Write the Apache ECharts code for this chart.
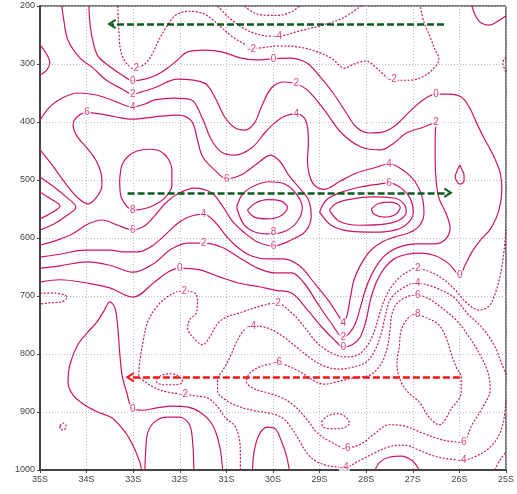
<!DOCTYPE html>
<html>
<head>
<meta charset="utf-8">
<script src="https://cdn.jsdelivr.net/npm/echarts/dist/echarts.min.js"></script>
<style>
  html, body { margin: 0; padding: 0; background: #fff; }
  #chart { width: 517px; height: 494px; }
</style>
</head>
<body>
<div id="chart"></div>
<script>
// contour polylines, [latitude (negative = S), pressure hPa]
const neg2Top = [[-33.33,200],[-33.31,241],[-33.27,276],[-33.16,297],[-32.97,307],[-32.75,300],[-32.60,284],[-32.47,262],[-32.30,238],[-32.09,216],[-31.79,209],[-31.47,214],[-31.19,231],[-30.89,252],[-30.61,266],[-30.46,274],[-30.25,272],[-29.86,269],[-29.43,271],[-29.05,279],[-28.73,291],[-28.47,307],[-28.26,300],[-28.00,295],[-27.78,307],[-27.57,322],[-27.40,328],[-27.08,328],[-26.76,321],[-26.50,303],[-26.44,290],[-26.52,276],[-26.63,253],[-26.76,228],[-26.84,200]];
const neg4Top = [[-31.19,200],[-30.93,221],[-30.68,236],[-30.40,247],[-30.08,252],[-29.90,252],[-29.43,243],[-28.94,233],[-28.51,221],[-28.11,200]];
const neg6Top = [[-30.61,200],[-30.40,212],[-30.12,216],[-29.86,216],[-29.58,209],[-29.43,200]];
const zeroLine = [[-33.95,200],[-33.93,228],[-33.87,259],[-33.76,286],[-33.54,302],[-33.24,319],[-33.01,329],[-32.75,326],[-32.50,319],[-32.26,307],[-32.05,293],[-31.83,279],[-31.47,276],[-31.10,279],[-30.68,290],[-30.38,293],[-29.99,291],[-29.65,290],[-29.28,298],[-29.00,321],[-28.71,350],[-28.43,384],[-28.21,409],[-27.93,419],[-27.63,417],[-27.36,405],[-27.08,383],[-26.78,362],[-26.50,352],[-26.22,352],[-25.96,357],[-25.79,374],[-25.64,400],[-25.47,428],[-25.30,453],[-25.13,486],[-25.09,517],[-25.15,552],[-25.32,583],[-25.54,603],[-25.73,624],[-25.88,647],[-25.99,664],[-26.22,645],[-26.50,631],[-26.82,626],[-27.12,628],[-27.40,636],[-27.61,652],[-27.78,676],[-27.91,707],[-28.00,741],[-28.13,771],[-28.30,784],[-28.49,788],[-28.68,776],[-28.96,753],[-29.26,724],[-29.60,695],[-29.97,690],[-30.29,684],[-30.72,678],[-31.15,667],[-31.57,655],[-32.00,652],[-32.26,659],[-32.54,676],[-33.01,702],[-33.50,686],[-33.97,678],[-34.57,672],[-35.00,676]];
const twoLine = [[-34.53,200],[-34.49,224],[-34.40,259],[-34.14,290],[-33.89,305],[-33.57,328],[-33.24,343],[-33.01,352],[-32.82,348],[-32.54,341],[-32.05,326],[-31.47,333],[-31.25,357],[-31.04,391],[-30.82,410],[-30.61,414],[-30.40,402],[-30.25,374],[-30.03,341],[-29.75,331],[-29.50,334],[-29.26,345],[-28.90,379],[-28.53,419],[-28.11,443],[-27.68,448],[-27.40,436],[-27.14,419],[-26.78,409],[-26.50,400],[-26.52,431],[-26.52,466],[-26.50,500],[-26.44,531],[-26.29,557],[-26.20,583],[-26.31,603],[-26.54,610],[-26.91,610],[-27.23,614],[-27.51,624],[-27.72,641],[-27.89,664],[-28.02,690],[-28.13,721],[-28.23,747],[-28.36,764],[-28.49,771],[-28.75,747],[-29.05,712],[-29.33,678],[-29.60,660],[-29.97,660],[-30.33,652],[-30.72,634],[-31.10,616],[-31.49,609],[-31.83,609],[-32.22,621],[-32.54,643],[-33.01,659],[-33.50,647],[-33.99,641],[-34.57,648],[-35.00,652]];
const fourLine = [[-35.00,397],[-34.79,374],[-34.53,359],[-34.19,350],[-33.82,353],[-33.46,362],[-33.01,374],[-32.75,369],[-32.54,362],[-32.11,359],[-31.75,362],[-31.53,391],[-31.32,431],[-31.10,452],[-30.82,457],[-30.46,445],[-30.18,419],[-29.97,402],[-29.75,390],[-29.50,386],[-29.33,393],[-29.26,409],[-29.24,436],[-29.26,466],[-29.22,491],[-29.11,509],[-28.90,516],[-28.58,503],[-28.21,488],[-27.78,478],[-27.51,472],[-27.19,484],[-26.95,503],[-26.80,529],[-26.76,557],[-26.86,579],[-27.08,591],[-27.38,598],[-27.66,607],[-27.91,622],[-28.11,645],[-28.26,672],[-28.34,703],[-28.41,733],[-28.49,747],[-28.58,736],[-28.79,710],[-29.11,678],[-29.43,648],[-29.78,636],[-30.12,636],[-30.46,631],[-30.76,616],[-31.02,595],[-31.25,572],[-31.49,559],[-31.75,562],[-32.00,572],[-32.32,595],[-32.60,614],[-32.90,624],[-33.18,624],[-33.50,621],[-34.04,621],[-34.57,628],[-35.00,633]];
const sixLine = [[-35.00,612],[-34.68,605],[-34.31,593],[-33.97,576],[-33.67,569],[-33.33,578],[-33.01,586],[-32.75,579],[-32.54,562],[-32.32,541],[-32.05,524],[-31.68,514],[-31.32,522],[-31.10,543],[-30.89,569],[-30.61,591],[-30.33,607],[-29.99,614],[-29.60,603],[-29.30,588],[-29.18,562],[-29.24,534],[-29.43,514],[-29.67,491],[-29.84,469],[-30.05,457],[-30.33,471],[-30.68,491],[-30.99,498],[-31.25,483],[-31.51,460],[-31.62,431],[-31.75,398],[-32.05,388],[-32.54,391],[-33.01,395],[-33.39,391],[-33.72,386],[-33.99,384],[-34.19,390],[-34.29,405],[-34.21,424],[-33.99,445],[-33.80,466],[-33.69,488],[-33.67,509],[-33.78,529],[-33.97,541],[-34.21,529],[-34.49,502],[-34.74,474],[-35.00,448]];
const eightLoopW = [[-33.29,500],[-33.24,474],[-33.12,460],[-32.92,450],[-32.65,447],[-32.43,450],[-32.26,462],[-32.17,483],[-32.17,509],[-32.30,529],[-32.54,543],[-32.79,550],[-33.01,552],[-33.16,543],[-33.27,526],[-33.29,500]];
const eightWedge = [[-35.00,495],[-34.70,512],[-34.44,529],[-34.23,547],[-34.44,562],[-34.70,576],[-35.00,586]];
const tenWedge = [[-35.00,521],[-34.76,533],[-34.57,545],[-34.76,557],[-35.00,567]];
const eightEyeC = [[-30.78,547],[-30.65,524],[-30.40,510],[-30.08,503],[-29.75,507],[-29.50,524],[-29.37,548],[-29.48,572],[-29.73,588],[-30.03,593],[-30.38,590],[-30.63,576],[-30.78,547]];
const tenEyeC = [[-30.55,552],[-30.38,540],[-30.12,534],[-29.84,536],[-29.69,548],[-29.84,562],[-30.12,567],[-30.40,564],[-30.55,552]];
const sixEyeE = [[-29.00,555],[-28.85,534],[-28.53,521],[-28.11,512],[-27.72,507],[-27.51,505],[-27.25,514],[-27.06,531],[-26.99,555],[-27.10,574],[-27.36,586],[-27.83,590],[-28.36,588],[-28.75,578],[-29.00,555]];
const eightEyeE = [[-28.79,552],[-28.64,540],[-28.32,533],[-27.89,529],[-27.40,531],[-27.19,541],[-27.14,555],[-27.29,569],[-27.61,576],[-28.15,578],[-28.58,571],[-28.79,552]];
const tenEyeE = [[-27.89,550],[-27.72,540],[-27.46,538],[-27.27,547],[-27.36,559],[-27.61,564],[-27.83,559],[-27.89,550]];
const fourBump = [[-35.00,267],[-34.85,284],[-34.79,298],[-34.85,310],[-35.00,319]];
const twoDrop = [[-25.99,474],[-26.05,484],[-26.09,495],[-26.05,503],[-25.99,507],[-25.90,502],[-25.90,491],[-25.94,483],[-25.99,474]];
const cornerNE = [[-25.73,200],[-25.66,216],[-25.54,229],[-25.36,233],[-25.17,226],[-25.00,217]];
const edgeDotNE = [[-25.00,288],[-25.07,298],[-25.04,307],[-25.00,314]];
const neg2EdgeW = [[-35.00,695],[-34.68,695],[-34.42,702],[-34.53,710],[-34.83,712],[-35.00,714]];
const zeroPeak = [[-32.82,1000],[-32.86,986],[-33.01,957],[-33.18,934],[-33.46,910],[-33.76,900],[-34.04,888],[-34.29,871],[-34.40,848],[-34.36,819],[-34.19,784],[-33.97,762],[-33.78,745],[-33.63,726],[-33.50,710],[-33.39,721],[-33.33,755],[-33.29,797],[-33.24,836],[-33.14,866],[-33.01,895],[-32.79,897],[-32.50,893],[-32.15,890],[-31.85,891],[-31.57,900],[-31.30,922],[-31.15,957],[-31.08,1000]];
const twoCup = [[-32.75,1000],[-32.73,966],[-32.69,936],[-32.54,917],[-32.28,909],[-32.00,909],[-31.79,922],[-31.72,957],[-31.70,1000]];
const neg2Low = [[-30.70,1000],[-30.70,974],[-30.72,948],[-30.82,924],[-31.02,910],[-31.19,891],[-31.40,876],[-31.68,872],[-31.92,869],[-32.17,867],[-32.43,862],[-32.71,850],[-32.88,836],[-32.86,814],[-32.79,779],[-32.69,745],[-32.50,719],[-32.28,702],[-32.07,693],[-31.94,691],[-31.68,695],[-31.62,707],[-31.64,728],[-31.79,741],[-31.83,755],[-31.72,771],[-31.51,784],[-31.36,771],[-31.21,750],[-31.04,738],[-30.68,728],[-30.25,717],[-29.93,712],[-29.60,729],[-29.33,753],[-29.05,781],[-28.75,798],[-28.47,805],[-28.19,802],[-27.98,786],[-27.83,762],[-27.72,733],[-27.59,703],[-27.40,678],[-27.19,662],[-26.91,653],[-26.61,659],[-26.33,672],[-26.07,691],[-25.84,712],[-25.58,724],[-25.36,717],[-25.22,693],[-25.11,659],[-25.04,621],[-25.00,583]];
const neg4Line = [[-25.00,836],[-25.09,817],[-25.26,784],[-25.51,755],[-25.84,729],[-26.11,703],[-26.50,686],[-26.93,678],[-27.25,688],[-27.49,707],[-27.59,734],[-27.68,765],[-27.81,793],[-28.00,814],[-28.26,822],[-28.58,826],[-28.90,821],[-29.20,807],[-29.50,788],[-29.80,769],[-30.12,755],[-30.46,752],[-30.63,760],[-30.78,779],[-30.91,803],[-31.06,826],[-31.19,845],[-31.19,864],[-31.02,879],[-30.72,891],[-30.38,898],[-30.08,902],[-29.80,910],[-29.60,928],[-29.43,950],[-29.26,972],[-29.05,986],[-28.79,993],[-28.47,995],[-28.15,984],[-27.83,971],[-27.51,960],[-27.19,957],[-26.86,966],[-26.54,976],[-26.22,981],[-25.94,983],[-25.64,976],[-25.36,962],[-25.15,940],[-25.04,910],[-25.00,879]];
const neg6Loop = [[-29.90,815],[-30.25,821],[-30.50,833],[-30.57,848],[-30.40,860],[-30.12,867],[-29.80,876],[-29.52,891],[-29.26,914],[-29.05,936],[-28.73,953],[-28.43,962],[-28.11,955],[-27.83,938],[-27.51,922],[-27.19,924],[-26.80,936],[-26.37,948],[-25.94,952],[-25.73,922],[-25.51,893],[-25.34,862],[-25.39,831],[-25.58,798],[-25.79,771],[-26.05,743],[-26.37,721],[-26.65,705],[-26.93,698],[-27.29,709],[-27.44,729],[-27.49,759],[-27.55,790],[-27.68,817],[-27.91,836],[-28.26,841],[-28.58,847],[-28.90,852],[-29.15,845],[-29.41,831],[-29.67,821],[-29.90,815]];
const neg8Loop = [[-26.95,731],[-26.69,738],[-26.44,750],[-26.29,771],[-26.18,798],[-26.07,822],[-25.96,841],[-25.96,866],[-26.16,893],[-26.44,922],[-26.65,909],[-26.86,883],[-27.10,866],[-27.27,845],[-27.34,815],[-27.29,788],[-27.25,759],[-27.10,738],[-26.95,731]];
const blobS = [[-28.96,917],[-28.83,907],[-28.62,903],[-28.43,909],[-28.36,919],[-28.51,928],[-28.75,929],[-28.92,926],[-28.96,917]];
const neg4Blob = [[-32.50,843],[-32.37,836],[-32.17,834],[-31.98,841],[-31.94,848],[-32.11,853],[-32.35,853],[-32.50,848],[-32.50,843]];
const zeroCupS = [[-30.44,1000],[-30.40,966],[-30.29,938],[-30.12,926],[-29.95,929],[-29.82,950],[-29.71,976],[-29.65,1000]];
const zeroCupSE = [[-27.81,1000],[-27.70,986],[-27.51,978],[-27.25,976],[-27.01,984],[-26.86,1000]];
const dotSW = [[-34.57,924],[-34.51,919],[-34.44,924],[-34.49,931],[-34.57,929],[-34.57,924]];
const neg2SE = [[-25.24,1000],[-25.13,983],[-25.00,969]];

// contour labels: [lat, hPa, text]
const labelPts = [
  [-32.97,307,'-2'],[-33.01,329,'0'],[-33.01,352,'2'],[-33.01,374,'4'],[-33.99,384,'6'],
  [-30.46,274,'-2'],[-29.90,252,'-4'],[-29.99,291,'0'],[-29.50,334,'2'],[-29.50,386,'4'],
  [-27.44,326,'-2'],[-26.50,352,'0'],[-26.50,400,'2'],[-30.99,498,'6'],[-27.51,472,'4'],
  [-27.51,505,'6'],[-33.01,552,'8'],[-33.01,586,'6'],[-31.49,559,'4'],[-31.49,609,'2'],
  [-29.99,590,'8'],[-29.99,614,'6'],[-32.00,652,'0'],[-31.94,691,'-2'],[-29.93,712,'-2'],
  [-30.46,752,'-4'],[-29.90,815,'-6'],[-28.49,747,'4'],[-28.49,771,'2'],[-28.49,788,'0'],
  [-25.99,664,'0'],[-26.93,653,'-2'],[-26.93,678,'-4'],[-26.93,698,'-6'],[-26.93,731,'-8'],
  [-31.92,869,'-2'],[-33.01,895,'0'],[-28.43,962,'-6'],[-28.47,995,'-4'],[-25.94,952,'-6'],
  [-25.94,983,'-4']
];

// arrows: start and end points [lat, hPa]
const arrowFrom = [[-26.33,231],[-33.12,522],[-25.99,840]];
const arrowTo = [[-33.46,231],[-26.24,522],[-33.07,840]];

const contours = [
  {level:-2, pts:neg2Top}, {level:-4, pts:neg4Top}, {level:-6, pts:neg6Top},
  {level:0, pts:zeroLine}, {level:2, pts:twoLine}, {level:4, pts:fourLine}, {level:6, pts:sixLine},
  {level:8, pts:eightLoopW}, {level:8, pts:eightWedge}, {level:10, pts:tenWedge},
  {level:8, pts:eightEyeC}, {level:10, pts:tenEyeC},
  {level:6, pts:sixEyeE}, {level:8, pts:eightEyeE}, {level:10, pts:tenEyeE},
  {level:4, pts:fourBump}, {level:2, pts:twoDrop}, {level:0, pts:cornerNE}, {level:-2, pts:edgeDotNE},
  {level:-2, pts:neg2EdgeW}, {level:0, pts:zeroPeak}, {level:2, pts:twoCup},
  {level:-2, pts:neg2Low}, {level:-4, pts:neg4Line}, {level:-6, pts:neg6Loop}, {level:-8, pts:neg8Loop},
  {level:-8, pts:blobS}, {level:-4, pts:neg4Blob}, {level:0, pts:zeroCupS}, {level:0, pts:zeroCupSE},
  {level:-2, pts:dotSW}, {level:-2, pts:neg2SE}
];

const CONTOUR = '#cc1466';
const ARROW_COLORS = ['#0b5a1e', '#0b5a1e', '#f51414'];
const HEAD = 'path://M5,0 L10,8 L8.4,9.2 L5,3.8 L1.6,9.2 L0,8 Z';

const chart = echarts.init(document.getElementById('chart'));

const series = contours.map(c => ({
  type: 'line',
  data: c.pts,
  symbol: 'none',
  showSymbol: false,
  smooth: 0.35,
  silent: true,
  clip: true,
  z: 2,
  lineStyle: { color: CONTOUR, width: 1.2, type: c.level < 0 ? [2, 1.6] : 'solid' }
}));

series.push({
  type: 'scatter',
  data: labelPts.map(l => ({ value: [l[0], l[1]], name: l[2] })),
  symbol: 'rect',
  symbolSize: 1,
  silent: true,
  z: 5,
  itemStyle: { color: 'rgba(0,0,0,0)' },
  label: {
    show: true, position: 'inside', formatter: '{b}',
    color: CONTOUR, fontSize: 10, fontFamily: 'Liberation Sans',
    backgroundColor: '#fff', padding: [0, 1], lineHeight: 10
  }
});

arrowFrom.forEach((from, i) => {
  series.push({
    type: 'line',
    data: [],
    silent: true,
    z: 6,
    markLine: {
      silent: true,
      animation: false,
      symbol: ['none', HEAD],
      symbolSize: [10, 9],
      label: { show: false },
      lineStyle: { color: ARROW_COLORS[i], width: 2.5, type: [7, 3], opacity: 1 },
      data: [[{ coord: from }, { coord: arrowTo[i] }]]
    }
  });
});

chart.setOption({
  animation: false,
  grid: { left: 40, right: 10, top: 6, bottom: 24, show: true, borderColor: '#000', borderWidth: 1 },
  xAxis: {
    type: 'value', min: -35, max: -25, interval: 1,
    axisLine: { show: true, onZero: false, lineStyle: { color: '#444', width: 2 } },
    axisTick: { show: true, length: 3, lineStyle: { color: '#444' } },
    axisLabel: { formatter: v => Math.round(Math.abs(v)) + 'S', color: '#444', fontSize: 9, fontFamily: 'Liberation Sans', margin: 5 },
    splitLine: { show: true, lineStyle: { color: '#bbb', type: [1, 2] } }
  },
  yAxis: {
    type: 'value', inverse: true, min: 200, max: 1000, interval: 100,
    axisLine: { show: true, onZero: false, lineStyle: { color: '#444', width: 2 } },
    axisTick: { show: true, length: 3, lineStyle: { color: '#444' } },
    axisLabel: { formatter: v => String(v), color: '#444', fontSize: 9, fontFamily: 'Liberation Sans', margin: 5 },
    splitLine: { show: true, lineStyle: { color: '#bbb', type: [1, 2] } }
  },
  series: series
});
</script>
</body>
</html>
